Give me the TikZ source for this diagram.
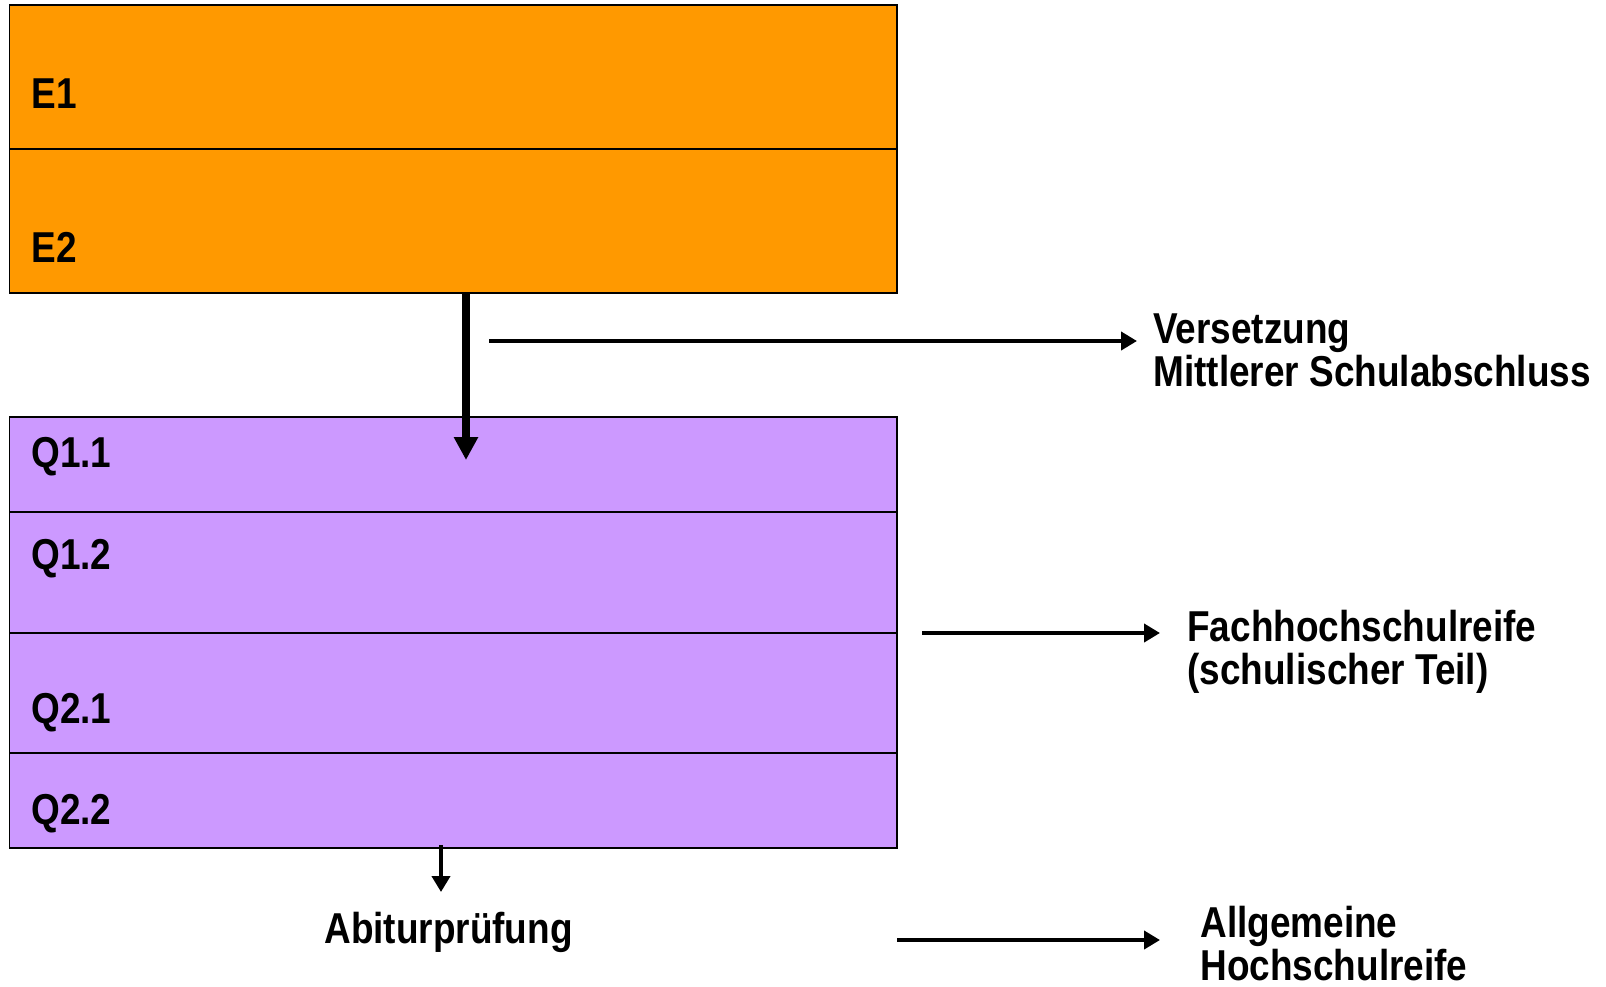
\documentclass[tikz,border=0pt]{standalone}
\usepackage{fontspec}
\setmainfont{Liberation Sans}[FakeStretch=0.855]
\usetikzlibrary{arrows.meta}
\definecolor{eorange}{HTML}{FF9900}
\definecolor{qlila}{HTML}{CC99FF}
\tikzset{
  phase/.style={draw=black, line width=0.04cm, inner sep=0pt, outer sep=0pt,
    anchor=north west, minimum width=17.75cm},
  phasetxt/.style={inner sep=0pt, anchor=base west},
  result/.style={inner sep=0pt, anchor=base west, align=left},
  thinarrow/.style={line width=0.08cm, -{Triangle[length=0.32cm, width=0.36cm]}},
  bigarrow/.style={line width=0.16cm, -{Triangle[length=0.46cm, width=0.46cm]}}
}
\begin{document}
\begin{tikzpicture}[x=0.02cm, y=-0.02cm,
  every node/.style={font=\bfseries\fontsize{24.6}{24.4}\selectfont}]
\useasboundingbox (0,0) rectangle (1606,987);
% Einfuehrungsphase
\node[phase, fill=eorange, minimum height=2.88cm] (e1) at (9.5,5) {};
\node[phase, fill=eorange, minimum height=2.88cm] (e2) at (e1.south west) {};
% Qualifikationsphase
\node[phase, fill=qlila, minimum height=1.9cm] (q11) at (9.5,417) {};
\node[phase, fill=qlila, minimum height=2.42cm] (q12) at (q11.south west) {};
\node[phase, fill=qlila, minimum height=2.4cm] (q21) at (q12.south west) {};
\node[phase, fill=qlila, minimum height=1.9cm] (q22) at (q21.south west) {};
\node[phasetxt] (te1) at (31,108) {E1};
\node[phasetxt] (te2) at (31,262) {E2};
\node[phasetxt] (tq11) at (31,467) {Q1.1};
\node[phasetxt] (tq12) at (31,569) {Q1.2};
\node[phasetxt] (tq21) at (31,723) {Q2.1};
\node[phasetxt] (tq22) at (31,824) {Q2.2};
% Abschluesse (Grundlinie der letzten Zeile)
\node[result] (vers) at (1153,386) {Versetzung\\Mittlerer Schulabschluss};
\node[result] (fhr) at (1187,684) {Fachhochschulreife\\(schulischer Teil)};
\node[result] (ahr) at (1200,980) {Allgemeine\\Hochschulreife};
\node[phasetxt] (abi) at (324,943) {Abiturprüfung};
% Pfeile
\coordinate (etip) at (466,460);
\coordinate (vstart) at (489,341);
\coordinate (fstart) at (922,633);
\coordinate (astart) at (897,940);
\coordinate (abitip) at (441,892);
\draw[bigarrow] (e2.south -| etip) -- (etip);
\draw[thinarrow, shorten >=0.32cm] (vstart) -- (vstart -| vers.west);
\draw[thinarrow, shorten >=0.54cm] (fstart) -- (fstart -| fhr.west);
\draw[thinarrow, shorten >=0.8cm] (astart) -- (astart -| ahr.west);
\draw[thinarrow] ([yshift=0.06cm]q22.south -| abitip) -- (abitip);
\end{tikzpicture}
\end{document}
